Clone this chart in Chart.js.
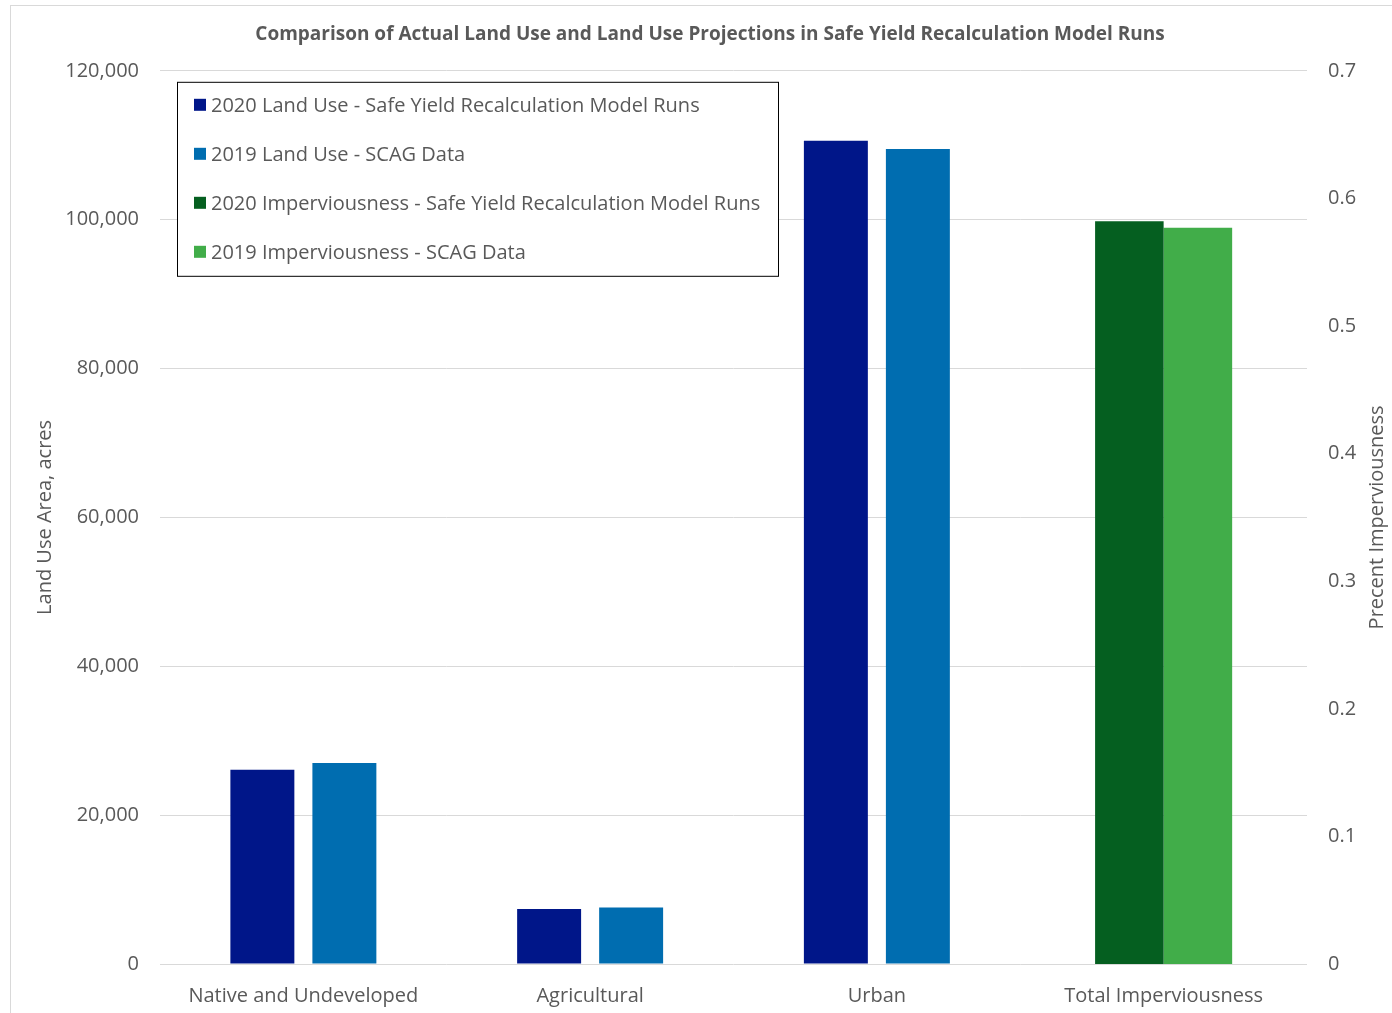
<!DOCTYPE html>
<html>
<head>
<meta charset="utf-8">
<script src="https://cdn.jsdelivr.net/npm/chart.js@4"></script>
<style>
  html, body { margin: 0; padding: 0; background: #fff; overflow: hidden; }
  #frame {
    position: absolute; left: 10px; top: 5px;
    width: 1400px; height: 1020px;
    border: 1px solid #d9d9d9; box-sizing: border-box;
  }
  #chart { position: absolute; left: -1px; top: -1px; }
</style>
</head>
<body>
<div id="frame"><canvas id="chart" width="1400" height="1020"></canvas></div>
<script>
// categories and values
const categories = ["Native and Undeveloped", "Agricultural", "Urban", "Total Imperviousness"];
const landUse2020 = [26100, 7400, 110600, null];
const landUse2019 = [27000, 7600, 109500, null];
const imperv2020 = [null, null, null, 0.582];
const imperv2019 = [null, null, null, 0.577];

const seriesLabels = [
  "2020 Land Use - Safe Yield Recalculation Model Runs",
  "2019 Land Use - SCAG Data",
  "2020 Imperviousness - Safe Yield Recalculation Model Runs",
  "2019 Imperviousness - SCAG Data",
];
const seriesColors = ["#001689", "#006DB0", "#055F20", "#41AD49"];
const rightTitle = "Precent Imperviousness";

const TEXT = "#595959";
const FONT = "'Open Sans', 'Noto Sans', sans-serif";

// legend box drawn inside the plot area, like the Excel original
const boxLegend = {
  id: "boxLegend",
  afterDatasetsDraw(chart) {
    const { ctx, chartArea } = chart;
    const x = chartArea.left + 17;
    const y = chartArea.top + 11;
    const w = 601, h = 194;
    ctx.save();
    ctx.fillStyle = "#fff";
    ctx.fillRect(x, y, w, h);
    ctx.strokeStyle = "#000";
    ctx.lineWidth = 1;
    ctx.strokeRect(x + 0.5, y + 0.5, w, h);
    ctx.font = "20px " + FONT;
    ctx.textBaseline = "middle";
    ctx.textAlign = "left";
    chart.data.datasets.forEach((ds, i) => {
      const cy = y + 23 + i * 49;
      ctx.fillStyle = ds.backgroundColor;
      ctx.fillRect(x + 17, cy - 6, 12, 12);
      ctx.fillStyle = TEXT;
      ctx.fillText(ds.label, x + 34, cy + 1);
    });
    ctx.restore();
  }
};

// secondary axis title reads bottom-to-top in the original
const rightAxisTitle = {
  id: "rightAxisTitle",
  afterDraw(chart) {
    const { ctx, chartArea } = chart;
    const s = chart.scales.y2;
    ctx.save();
    ctx.translate(s.right - 33, (chartArea.top + chartArea.bottom) / 2);
    ctx.rotate(-Math.PI / 2);
    ctx.font = "20px " + FONT;
    ctx.fillStyle = TEXT;
    ctx.textAlign = "center";
    ctx.textBaseline = "middle";
    ctx.fillText(rightTitle, 0, 0);
    ctx.restore();
  }
};

new Chart(document.getElementById("chart"), {
  type: "bar",
  data: {
    labels: categories,
    datasets: [
      { label: seriesLabels[0], data: landUse2020, backgroundColor: seriesColors[0], yAxisID: "y",
        stack: "first", categoryPercentage: 0.572, barPercentage: 0.78 },
      { label: seriesLabels[1], data: landUse2019, backgroundColor: seriesColors[1], yAxisID: "y",
        stack: "second", categoryPercentage: 0.572, barPercentage: 0.78 },
      { label: seriesLabels[2], data: imperv2020, backgroundColor: seriesColors[2], yAxisID: "y2",
        stack: "first", categoryPercentage: 0.478, barPercentage: 1.0 },
      { label: seriesLabels[3], data: imperv2019, backgroundColor: seriesColors[3], yAxisID: "y2",
        stack: "second", categoryPercentage: 0.478, barPercentage: 1.0 },
    ],
  },
  options: {
    responsive: false,
    animation: false,
    layout: { padding: 0 },
    plugins: {
      legend: { display: false },
      tooltip: { enabled: false },
      title: {
        display: true,
        text: "Comparison of Actual Land Use and Land Use Projections in Safe Yield Recalculation Model Runs",
        color: TEXT,
        font: { family: FONT, size: 19, weight: "bold" },
        padding: { top: 18, bottom: 25 },
      },
    },
    scales: {
      x: {
        type: "category",
        offset: true,
        grid: { display: false },
        border: { display: false },
        ticks: { color: TEXT, font: { family: FONT, size: 20 }, padding: 12, maxRotation: 0 },
        afterFit(scale) { scale.height = 61; },
      },
      y: {
        position: "left",
        min: 0,
        max: 120000,
        ticks: {
          stepSize: 20000,
          color: TEXT,
          font: { family: FONT, size: 20 },
          padding: 21,
          callback: (v) => v.toLocaleString("en-US"),
        },
        grid: { color: "#d9d9d9", drawTicks: false },
        border: { display: false },
        title: {
          display: true,
          text: "Land Use Area, acres",
          color: TEXT,
          font: { family: FONT, size: 20 },
          padding: { top: 23 },
        },
        afterFit(scale) { scale.width = 150; },
      },
      y2: {
        position: "right",
        min: 0,
        max: 0.7,
        ticks: {
          stepSize: 0.1,
          color: TEXT,
          font: { family: FONT, size: 20 },
          padding: 21,
        },
        grid: { display: false, drawTicks: false },
        border: { display: false },
        afterFit(scale) { scale.width = 103; },
      },
    },
  },
  plugins: [boxLegend, rightAxisTitle],
});
</script>
</body>
</html>
